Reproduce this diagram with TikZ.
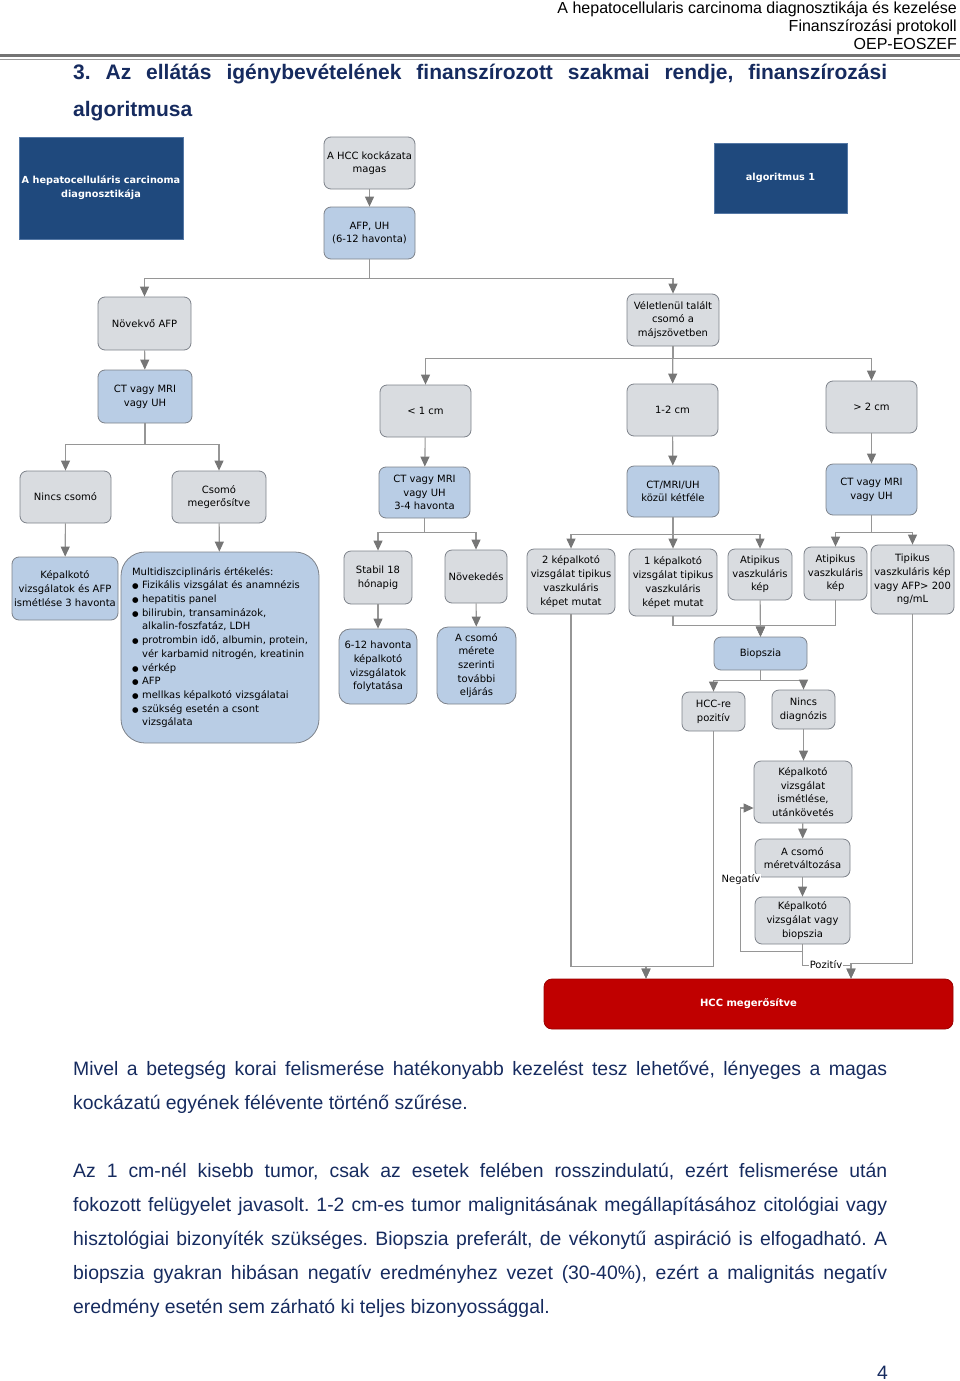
\documentclass[tikz,border=0pt]{standalone}
\usepackage{fontspec}
\setmainfont{Liberation Sans}
\newfontfamily\boxfont{DejaVu Sans}
\usetikzlibrary{arrows.meta, calc}
\definecolor{navy}{RGB}{22,43,95}
\definecolor{boxgray}{RGB}{217,220,224}
\definecolor{boxblue}{RGB}{185,205,229}
\definecolor{boxline}{RGB}{125,130,138}
\definecolor{darkblue}{RGB}{31,73,125}
\definecolor{darkline}{RGB}{85,120,165}
\definecolor{hccred}{RGB}{192,0,0}
\definecolor{linegray}{RGB}{150,150,150}
\definecolor{arrowgray}{RGB}{118,118,118}
\newcommand{\itm}{\makebox[10pt][l]{\fontsize{7.5}{7.5}\selectfont ●}}
\newcommand{\ind}{\hspace*{10pt}}
\hyphenpenalty=10000
\exhyphenpenalty=10000
\frenchspacing

\begin{document}
\begin{tikzpicture}[x=1pt, y=-1pt,
  every node/.style={font=\boxfont\fontsize{10}{13.7}\selectfont},
  box/.style={draw=boxline, line width=0.8pt, rounded corners=7pt, align=center, inner sep=1pt, text=black},
  graybox/.style={box, fill=boxgray},
  bluebox/.style={box, fill=boxblue},
  darkbox/.style={draw=darkline, line width=0.8pt, fill=darkblue, align=center, text=white, inner sep=0pt,
    font=\boxfont\bfseries\fontsize{9.7}{13.7}\selectfont},
  sz/.style 2 args={minimum width=#1, minimum height=#2},
  conn/.style={draw=linegray, line width=1.1pt, -{Triangle[width=9pt,length=10pt,color=arrowgray]}},
  lbl/.style={fill=white, inner sep=0.5pt},
  page/.style={font=\fontsize{19.4}{34}\selectfont, text=navy, text width=814, align=justify, inner sep=0pt}
]
\useasboundingbox (0,0) rectangle (960,1381);

% header
\node[anchor=base east, inner sep=0pt, font=\fontsize{16}{18}\selectfont] (hdr1) at (957,13.5) {A hepatocellularis carcinoma diagnosztikája és kezelése};
\node[anchor=base east, inner sep=0pt, font=\fontsize{16}{18}\selectfont] (hdr2) at (957,31.5) {Finanszírozási protokoll};
\node[anchor=base east, inner sep=0pt, font=\fontsize{16}{18}\selectfont] (hdr3) at (957,49.5) {OEP-EOSZEF};
\draw[black!55, line width=2.6pt] (0,55.8) -- (960,55.8);
\draw[black!40, line width=0.8pt] (0,59.4) -- (960,59.4);

\node[page, anchor=base west, font=\bfseries\fontsize{21}{37}\selectfont] (title) at (73,79)
  {3. Az ellátás igénybevételének finanszírozott szakmai rendje, finanszírozási\linebreak algoritmusa};

% blocks
\node[darkbox, sz={164}{102}] (diag) at (101,188) {A hepatocelluláris carcinoma\\diagnosztikája};
\node[darkbox, sz={133}{70}] (alg) at (780.5,178) {algoritmus 1};

\node[graybox, sz={91}{52}] (risk) at (369.5,163) {A HCC kockázata\\magas};
\node[bluebox, sz={91}{52}] (afp) at (369.5,233) {AFP, UH\\(6-12 havonta)};

\node[graybox, sz={93}{53}] (novafp) at (144.5,323.5) {Növekvő AFP};
\node[bluebox, sz={94}{53}] (ctmri1) at (145,396.5) {CT vagy MRI\\vagy UH};
\node[graybox, sz={92}{52}] (incid) at (673,320) {Véletlenül talált\\csomó a\\májszövetben};

\node[graybox, sz={91}{52}] (lt1) at (425.5,411) {< 1 cm};
\node[graybox, sz={91}{52}] (c12) at (672.5,410) {1-2 cm};
\node[graybox, sz={91}{52}] (gt2) at (871.5,407) {> 2 cm};

\node[graybox, sz={91}{52}] (nincs) at (65.5,497) {Nincs csomó};
\node[graybox, sz={94}{52}] (csomo) at (219,497) {Csomó\\megerősítve};
\node[bluebox, sz={106}{63}] (kep3) at (65,588.5) {Képalkotó\\vizsgálatok és AFP\\ismétlése 3 havonta};
\node[bluebox, sz={198}{191}, rounded corners=24pt, align=left] (multi) at (220,647.5)
  {Multidiszciplináris értékelés:\\
   \itm Fizikális vizsgálat és anamnézis\\
   \itm hepatitis panel\\
   \itm bilirubin, transaminázok,\\
   \ind alkalin-foszfatáz, LDH\\
   \itm protrombin idő, albumin, protein,\\
   \ind vér karbamid nitrogén, kreatinin\\
   \itm vérkép\\
   \itm AFP\\
   \itm mellkas képalkotó vizsgálatai\\
   \itm szükség esetén a csont\\
   \ind vizsgálata};

\node[bluebox, sz={91}{51}] (ct34) at (424.5,492.5) {CT vagy MRI\\vagy UH\\3-4 havonta};
\node[graybox, sz={68}{53}] (stabil) at (378,577.5) {Stabil 18\\hónapig};
\node[graybox, sz={62}{53}] (noveked) at (476,576.5) {Növekedés};
\node[bluebox, sz={78}{75}, rounded corners=11pt] (folyt) at (378,666.5) {6-12 havonta\\képalkotó\\vizsgálatok\\folytatása};
\node[bluebox, sz={79}{77}, rounded corners=11pt] (tovabbi) at (476.5,665.5) {A csomó\\mérete\\szerinti\\további\\eljárás};

\node[bluebox, sz={92}{51}] (ketfele) at (673,491.5) {CT/MRI/UH\\közül kétféle};
\node[graybox, sz={88}{65}] (ket) at (571,581.5) {2 képalkotó\\vizsgálat tipikus\\vaszkuláris\\képet mutat};
\node[graybox, sz={88}{67}] (egy) at (673,582.5) {1 képalkotó\\vizsgálat tipikus\\vaszkuláris\\képet mutat};
\node[graybox, sz={64}{51}] (atip1) at (760,574.5) {Atipikus\\vaszkuláris\\kép};

\node[bluebox, sz={91}{51}] (ctmri2) at (871.5,489.5) {CT vagy MRI\\vagy UH};
\node[graybox, sz={63}{53}] (atip2) at (835.5,573.5) {Atipikus\\vaszkuláris\\kép};
\node[graybox, sz={83}{69}] (tipik) at (912.5,579.5) {Tipikus\\vaszkuláris kép\\vagy AFP> 200\\ng/mL};

\node[bluebox, sz={93}{33}] (biop) at (760.5,653.5) {Biopszia};
\node[graybox, sz={63}{39}] (hccpoz) at (713.5,711.5) {HCC-re\\pozitív};
\node[graybox, sz={63}{39}] (nodiag) at (803.5,709.5) {Nincs\\diagnózis};
\node[graybox, sz={98}{62}] (ismet) at (803,792) {Képalkotó\\vizsgálat\\ismétlése,\\utánkövetés};
\node[graybox, sz={95}{38}] (meret) at (802.5,858) {A csomó\\méretváltozása};
\node[graybox, sz={95}{47}] (vagybiop) at (802.5,920.5) {Képalkotó\\vizsgálat vagy\\biopszia};

\node[draw=hccred!80!black, line width=0.8pt, fill=hccred, rounded corners=8pt, text=white,
  font=\boxfont\bfseries\fontsize{10}{13.7}\selectfont, sz={409}{50}] (hcc) at (748.5,1004) {HCC megerősítve};

% connectors
\draw[conn] (risk) -- (afp);
\draw[conn] (afp.south) -- ++(0,19) -| (novafp.north);
\draw[conn] (afp.south) -- ++(0,19) -| (incid.north);
\draw[conn] (novafp) -- (ctmri1);
\draw[conn] (ctmri1.south) -- ++(0,21) -| (nincs.north);
\draw[conn] (ctmri1.south) -- ++(0,21) -| (csomo.north);
\draw[conn] (nincs) -- (kep3);
\draw[conn] (csomo) -- (multi);
\draw[conn] (incid.south) -- ++(0,12) -| (lt1.north);
\draw[conn] (incid) -- (c12);
\draw[conn] (incid.south) -- ++(0,12) -| (gt2.north);
\draw[conn] (lt1) -- (ct34);
\draw[conn] (c12) -- (ketfele);
\draw[conn] (gt2) -- (ctmri2);
\draw[conn] (ct34.south) -- ++(0,14) -| (stabil.north);
\draw[conn] (ct34.south) -- ++(0,14) -| (noveked.north);
\draw[conn] (stabil) -- (folyt);
\draw[conn] (noveked) -- (tovabbi);
\draw[conn] (ketfele.south) -- ++(0,17) -| (ket.north);
\draw[conn] (ketfele) -- (egy);
\draw[conn] (ketfele.south) -- ++(0,17) -| (atip1.north);
\draw[conn] (ctmri2.south) -- ++(0,17) -| (atip2.north);
\draw[conn] (ctmri2.south) -- ++(0,17) -| (tipik.north);
\draw[conn] (egy.south) -- ++(0,9) -| (biop.north);
\draw[conn] (atip2.south) -- ++(0,25) -| (biop.north);
\draw[conn] (atip1) -- (biop);
\draw[conn] (biop.south) -- ++(0,10) -| (hccpoz.north);
\draw[conn] (biop.south) -- ++(0,10) -| (nodiag.north);
\draw[conn] (nodiag.south) -- (nodiag.south |- ismet.north);
\draw[conn] (ismet) -- (meret);
\draw[conn] (meret) -- (vagybiop);
\draw[conn] (vagybiop.south) -- ++(0,7) -| ($(ismet.west)+(-13,16)$) -- ($(ismet.west)+(0,16)$);
\draw[conn] (vagybiop.south) -- ++(0,21) -| ([xshift=102.5pt]hcc.north);
\draw[conn] (tipik.south) -- ++(0,349) -| ([xshift=102.5pt]hcc.north);
\draw[conn] (ket.south) -- ++(0,352) -| ([xshift=-102.5pt]hcc.north);
\draw[conn] (hccpoz.south) -- ++(0,235) -| ([xshift=-102.5pt]hcc.north);
\node[lbl] (neg) at (741,880) {Negatív};
\node[lbl] (poz) at (826,965) {Pozitív};

% text below
\node[page, anchor=base west] (para1) at (73,1075)
  {Mivel a betegség korai felismerése hatékonyabb kezelést tesz lehetővé, lényeges a magas\linebreak
   kockázatú egyének félévente történő szűrése.};
\node[page, anchor=base west] (para2) at (73,1177)
  {Az 1 cm-nél kisebb tumor, csak az esetek felében rosszindulatú, ezért felismerése után\linebreak
   fokozott felügyelet javasolt. 1-2 cm-es tumor malignitásának megállapításához citológiai vagy\linebreak
   hisztológiai bizonyíték szükséges. Biopszia preferált, de vékonytű aspiráció is elfogadható. A\linebreak
   biopszia gyakran hibásan negatív eredményhez vezet (30-40\%), ezért a malignitás negatív\linebreak
   eredmény esetén sem zárható ki teljes bizonyossággal.};
\node[anchor=base east, inner sep=0pt, text=navy, font=\fontsize{19.4}{34}\selectfont] (pnum) at (888,1379) {4};
\end{tikzpicture}
\end{document}
